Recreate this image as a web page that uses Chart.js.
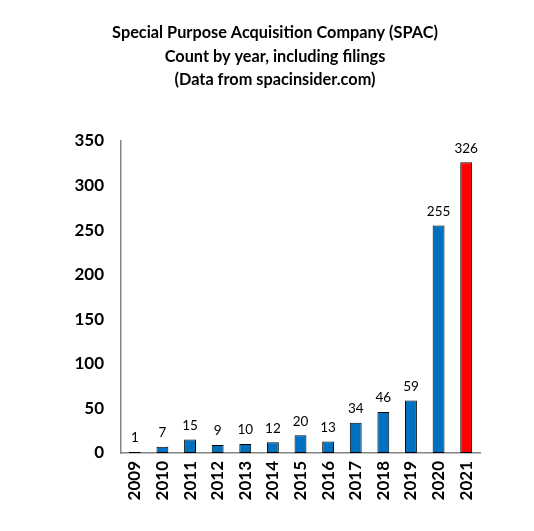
<!DOCTYPE html>
<html><head><meta charset="utf-8">
<script src="https://cdn.jsdelivr.net/npm/chart.js@4"></script>
<style>html,body{margin:0;padding:0;background:#fff;}#wrap{width:534px;height:531px;}</style>
</head><body><div id="wrap"><canvas id="c" width="534" height="531"></canvas></div>
<script>
const titleLines = ["Special Purpose Acquisition Company (SPAC)", "Count by year, including filings", "(Data from spacinsider.com)"];
const years = ["2009","2010","2011","2012","2013","2014","2015","2016","2017","2018","2019","2020","2021"];
const counts = [1,7,15,9,10,12,20,13,34,46,59,255,326];
const barColors = ["#0070C0","#0070C0","#0070C0","#0070C0","#0070C0","#0070C0","#0070C0","#0070C0","#0070C0","#0070C0","#0070C0","#0070C0","#FF0000"];
const yTicks = [0,50,100,150,200,250,300,350];

const labelPlugin = {
  id: 'barLabels',
  afterDatasetsDraw(chart) {
    const ctx = chart.ctx;
    const meta = chart.getDatasetMeta(0);
    ctx.save();
    ctx.font = '13.5px Lato';
    ctx.fillStyle = '#000';
    ctx.textAlign = 'center';
    ctx.textBaseline = 'middle';
    meta.data.forEach((el, i) => {
      ctx.fillText(String(counts[i]), el.x, el.y - 14);
    });
    ctx.restore();
  }
};

new Chart(document.getElementById('c'), {
  type: 'bar',
  data: {
    labels: years,
    datasets: [{
      data: counts,
      backgroundColor: barColors,
      borderColor: '#000',
      borderWidth: 1,
      borderSkipped: false,
      barPercentage: 0.43,
      categoryPercentage: 1.0
    }]
  },
  options: {
    responsive: false,
    animation: false,
    layout: { padding: { left: 70, right: 54, top: 0, bottom: 18 } },
    plugins: {
      legend: { display: false },
      tooltip: { enabled: false },
      title: {
        display: true,
        text: titleLines,
        color: '#000',
        font: { family: 'Lato', size: 16.3, weight: 'bold', lineHeight: 1.45 },
        padding: { top: 21, bottom: 49 }
      }
    },
    scales: {
      x: {
        grid: { display: false, drawTicks: false },
        border: { display: true, color: '#868686', width: 1.5 },
        ticks: { color: '#000', font: { family: 'Lato', size: 17, weight: 'bold' }, maxRotation: 90, minRotation: 90, padding: 8 },
        afterFit(s) { s.height = 60; }
      },
      y: {
        min: 0, max: 350,
        afterBuildTicks(s) { s.ticks = yTicks.map(v => ({ value: v })); },
        grid: { display: false, drawTicks: false },
        border: { display: true, color: '#868686', width: 1.5 },
        ticks: { color: '#000', font: { family: 'Lato', size: 17, weight: 'bold' }, padding: 17 },
        afterFit(s) { s.width = 51; }
      }
    }
  },
  plugins: [labelPlugin]
});
</script>
</body></html>
